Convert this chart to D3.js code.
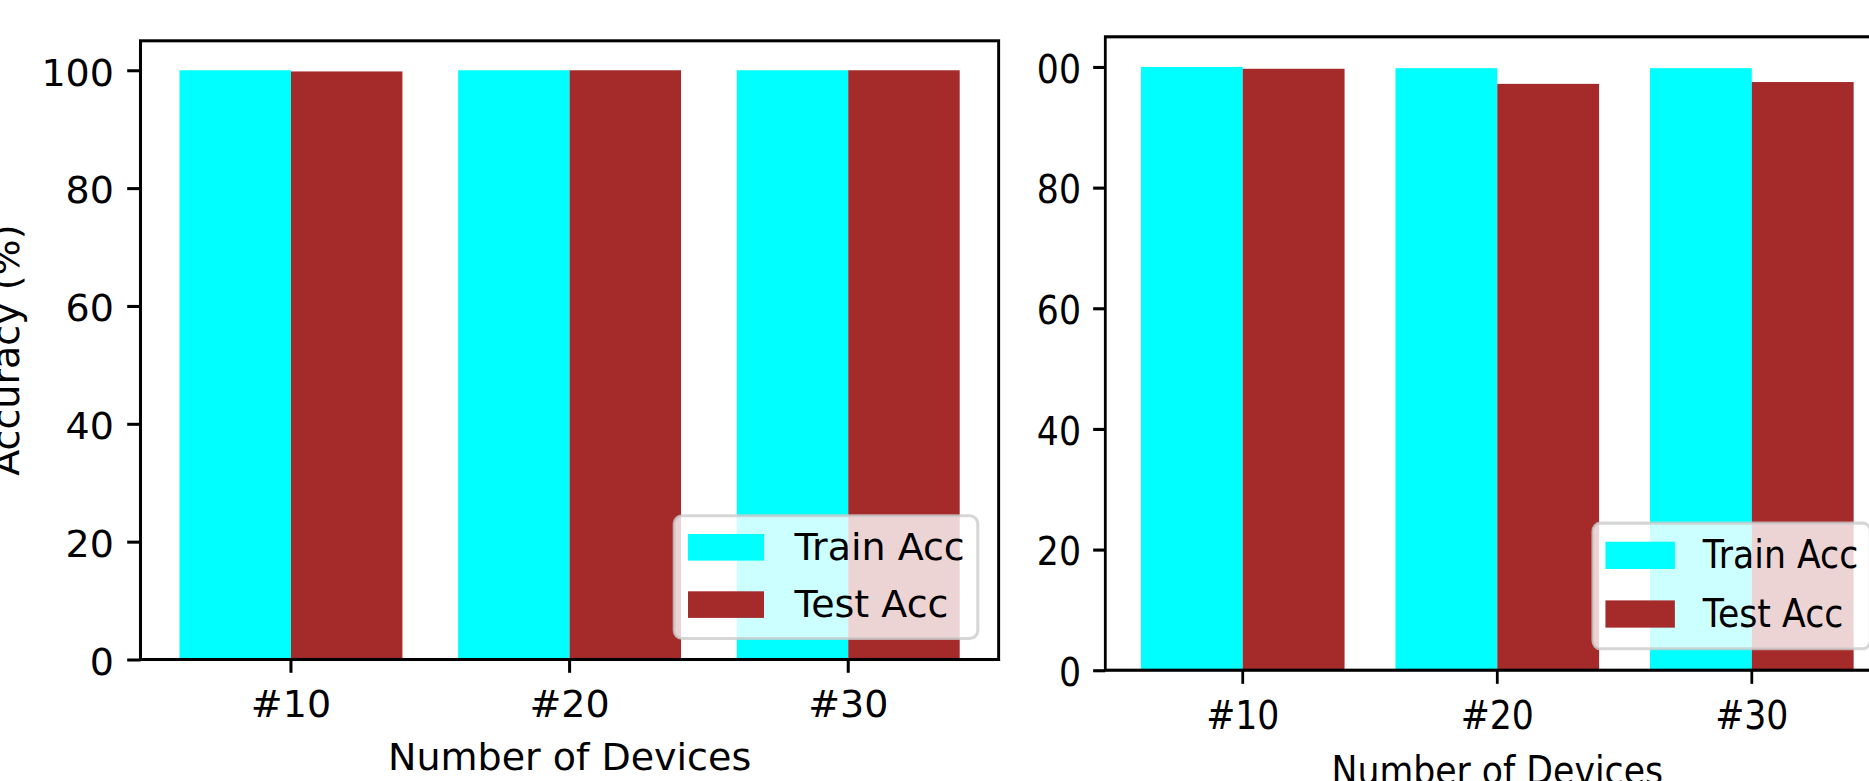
<!DOCTYPE html>
<html>
<head>
<meta charset="utf-8">
<script src="https://cdn.jsdelivr.net/npm/d3@7"></script>
<style>
  html, body { margin: 0; padding: 0; background: #fff; }
  svg { display: block; }
</style>
</head>
<body>
<svg id="chart" width="1869" height="781"></svg>
<script>
// Categories and series
const categories = ["#10", "#20", "#30"];
const seriesNames = ["Train Acc", "Test Acc"];
const seriesColors = ["#00ffff", "#a52a2a"];
const yTicks = [0, 20, 40, 60, 80, 100];

// Left panel values (%)
const trainAccLeft = [100, 100, 100];
const testAccLeft = [99.8, 100, 100];

// Right panel values (%)
const trainAccRight = [100, 99.8, 99.8];
const testAccRight = [99.7, 97.2, 97.5];

const FONT = "'DejaVu Sans', sans-serif";
const PT = 3.8;            // pixels per point
const FS = 10 * PT;        // 10pt text
const W = 858.2, H = 618.7; // plot area size

const svg = d3.select("#chart");
svg.append("rect").attr("width", 1869).attr("height", 781).attr("fill", "#fff");

function drawPanel(g, train, test, opts) {
  const x = d3.scaleBand().domain(categories).range([0, W])
    .paddingInner(0.2).paddingOuter(0.14);
  const xs = d3.scaleBand().domain(seriesNames).range([0, x.bandwidth()]);
  const y = d3.scaleLinear().domain([0, 105]).range([H, 0]);

  const rows = categories.map((c, i) => ({ c, values: [train[i], test[i]] }));

  // bars
  g.append("g").selectAll("g").data(rows).join("g")
    .attr("transform", d => `translate(${x(d.c)},0)`)
    .selectAll("rect")
    .data(d => d.values.map((v, j) => ({ s: seriesNames[j], v, color: seriesColors[j] })))
    .join("rect")
    .attr("x", d => xs(d.s))
    .attr("width", xs.bandwidth())
    .attr("y", d => y(d.v))
    .attr("height", d => H - y(d.v))
    .attr("fill", d => d.color);

  // y axis
  const ya = g.append("g")
    .call(d3.axisLeft(y).tickValues(yTicks).tickSize(3.5 * PT).tickPadding(3.5 * PT).tickSizeOuter(0));
  ya.select(".domain").remove();
  ya.selectAll(".tick line").attr("stroke", "#000").attr("stroke-width", 0.8 * PT);
  ya.selectAll(".tick text").attr("fill", "#000").attr("font-size", FS)
    .attr("font-family", FONT).attr("dy", "0.39em");

  // x axis
  const xa = g.append("g").attr("transform", `translate(0,${H})`)
    .call(d3.axisBottom(x).tickSize(3.5 * PT).tickPadding(3.5 * PT).tickSizeOuter(0));
  xa.select(".domain").remove();
  xa.selectAll(".tick line").attr("stroke", "#000").attr("stroke-width", 0.8 * PT);
  xa.selectAll(".tick text").attr("fill", "#000").attr("font-size", FS)
    .attr("font-family", FONT).attr("dy", "0.8em");

  // frame
  g.append("rect").attr("x", 0).attr("y", 0).attr("width", W).attr("height", H)
    .attr("fill", "none").attr("stroke", "#000").attr("stroke-width", 0.8 * PT);

  // axis titles
  g.append("text").attr("x", W / 2).attr("y", H + 111)
    .attr("text-anchor", "middle").attr("font-size", FS).attr("font-family", FONT)
    .attr("fill", "#000").text("Number of Devices");
  if (opts.yLabel) {
    g.append("text").attr("transform", `translate(-122,${H / 2}) rotate(-90)`)
      .attr("text-anchor", "middle").attr("font-size", FS).attr("font-family", FONT)
      .attr("fill", "#000").text("Accuracy (%)");
  }

  // legend (lower right)
  const lg = g.append("g");
  lg.append("rect").attr("x", 533.7).attr("y", 475).attr("width", 303.6).attr("height", 122.7)
    .attr("rx", 8).attr("ry", 8)
    .attr("fill", "#fff").attr("fill-opacity", 0.8)
    .attr("stroke", "#cccccc").attr("stroke-opacity", 0.8).attr("stroke-width", 0.8 * PT);
  const items = lg.selectAll("g.item").data(seriesNames).join("g").attr("class", "item")
    .attr("transform", (d, i) => `translate(547.5,${493.2 + i * 57.3})`);
  items.append("rect").attr("width", 2 * FS).attr("height", 0.7 * FS)
    .attr("fill", (d, i) => seriesColors[i]);
  items.append("text").attr("x", 2 * FS + 0.8 * FS).attr("y", 26)
    .attr("font-size", FS).attr("font-family", FONT).attr("fill", "#000").text(d => d);
}

// left panel
const left = svg.append("g").attr("transform", "translate(140.5,40.8)");
drawPanel(left, trainAccLeft, testAccLeft, { yLabel: true });

// right panel, clipped to its own canvas area
svg.append("defs").append("clipPath").attr("id", "rightClip")
  .append("rect").attr("x", 1036).attr("y", 0).attr("width", 833).attr("height", 781);
const rightWrap = svg.append("g").attr("clip-path", "url(#rightClip)");
const right = rightWrap.append("g").attr("transform", "translate(1105.3,36.8) scale(0.9135,1.0238)");
drawPanel(right, trainAccRight, testAccRight, { yLabel: false });

// thin edge of the right canvas
svg.append("line").attr("x1", 1000.5).attr("x2", 1000.5).attr("y1", 39).attr("y2", 660)
  .attr("stroke", "#e2e2e2").attr("stroke-width", 1);
</script>
</body>
</html>
